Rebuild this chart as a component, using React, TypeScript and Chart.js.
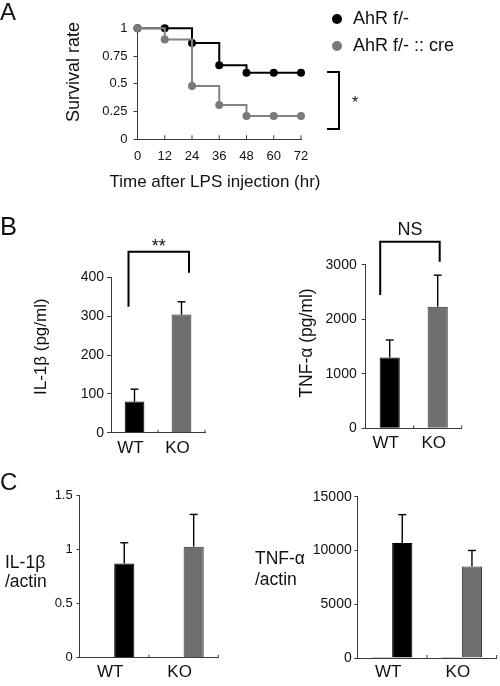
import React, { useEffect, useRef } from "react";
import { Chart, registerables } from "chart.js";
Chart.register(...registerables);

// ---------- data ----------
// Panel A: survival after LPS injection
const survivalHours = [0, 12, 24, 36, 48, 60, 72];
const survivalFlox = [1, 1, 0.867, 0.667, 0.6, 0.6, 0.6];
const survivalCre = [1, 0.9, 0.48, 0.31, 0.21, 0.21, 0.21];
const seriesNames = ["AhR f/-", "AhR f/- :: cre"];

// Panel B: serum cytokines
const groups = ["WT", "KO"];
const il1bSerum = [80, 304];
const il1bSerumErr = [32, 33];
const tnfSerum = [1300, 2230];
const tnfSerumErr = [320, 580];

// Panel C: mRNA / actin (first series is the near-zero control bar)
const il1bCtrl = [0.004, 0.004];
const il1bMrna = [0.87, 1.024];
const il1bMrnaErr = [0.19, 0.297];
const tnfCtrl = [100, 100];
const tnfMrna = [10700, 8500];
const tnfMrnaErr = [2630, 1500];

// significance brackets: [left leg end, top, right leg end] in data units
const bracketIl1b = [324, 466, 412];
const bracketTnf = [2446, 3424, 3057];
const bracketSurvival = [0.606, 0.093];

// ---------- style ----------
const FONT = "'Liberation Sans', Arial, Helvetica, sans-serif";
const TEXT = "#111";
const AXIS = "#3a3a3a";
const BLACK = "#000000";
const GRAY_BAR = "#6f6f6f";
const GRAY_EDGE = "#2e2e2e";
const GRAY_LINE = "#828282";

function drawText(ctx: any, s: string, x: number, y: number, size: number, align = "left", angle = 0, weight = "normal") {
  ctx.save();
  ctx.font = `${weight} ${size}px ${FONT}`;
  ctx.fillStyle = TEXT;
  ctx.textAlign = align;
  ctx.textBaseline = "middle";
  ctx.translate(x, y);
  if (angle) ctx.rotate(angle);
  ctx.fillText(s, 0, 0);
  ctx.restore();
}

function line(ctx: any, pts: number[][], width = 1, color = AXIS) {
  ctx.save();
  ctx.strokeStyle = color;
  ctx.lineWidth = width;
  ctx.beginPath();
  pts.forEach((p, i) => (i ? ctx.lineTo(p[0], p[1]) : ctx.moveTo(p[0], p[1])));
  ctx.stroke();
  ctx.restore();
}

function yAxis(min: number, max: number, step: number, size: number, tickLen: number, pad: number, width: number) {
  return {
    min,
    max,
    ticks: { stepSize: step, font: { family: FONT, size }, color: TEXT, padding: pad, callback: (v: any) => String(v) },
    grid: { drawOnChartArea: false, drawTicks: true, tickLength: tickLen, color: AXIS, lineWidth: 1 },
    border: { display: true, color: AXIS, width: 1 },
    afterFit: (s: any) => {
      s.width = width;
    },
  };
}

function xCatAxis(size: number, pad: number, height: number) {
  return {
    type: "category",
    ticks: { font: { family: FONT, size }, color: TEXT, padding: pad, labelOffset: -4, maxRotation: 0, autoSkip: false },
    grid: { drawOnChartArea: false, drawTicks: false, offset: true },
    border: { display: true, color: AXIS, width: 1 },
    afterFit: (s: any) => {
      s.height = height;
    },
  };
}

function padding(ox: number, oy: number, w: number, h: number, area: number[], yW: number, xH: number) {
  const [l, t, r, b] = area;
  return { left: l - ox - yW, top: t - oy, right: ox + w - r, bottom: oy + h - b - xH };
}

function errorBarPlugin(dsIndex: number, errs: number[]) {
  return {
    id: "errbars",
    afterDatasetsDraw(chart: any) {
      const meta = chart.getDatasetMeta(dsIndex);
      const y = chart.scales.y;
      const vals = chart.data.datasets[dsIndex].data;
      const ctx = chart.ctx;
      meta.data.forEach((bar: any, i: number) => {
        const top = y.getPixelForValue(vals[i] + errs[i]);
        line(ctx, [[bar.x, bar.y], [bar.x, top]], 1.4, BLACK);
        line(ctx, [[bar.x - 4, top], [bar.x + 4, top]], 1.4, BLACK);
      });
    },
  };
}

function catTicks(chart: any) {
  const x = chart.scales.x;
  const n = chart.data.labels.length;
  for (let i = 1; i <= n; i++) {
    const px = x.left + (i * x.width) / n;
    line(chart.ctx, [[px, x.top], [px, x.top - 3]], 1, AXIS);
  }
}

const common = {
  animation: false,
  responsive: false,
  devicePixelRatio: 1,
  events: [],
};

// ---------- panel A ----------
function makeSurvival() {
  const ox = 0, oy = 0, w = 500, h = 200;
  const area = [137.5, 28.3, 301, 139.3];
  const yW = 60, xH = 30;
  const pts = (ys: number[]) => survivalHours.map((hr, i) => ({ x: hr, y: ys[i] }));
  return {
    type: "line",
    data: {
      datasets: [
        {
          label: seriesNames[1],
          data: pts(survivalCre),
          borderColor: GRAY_LINE,
          backgroundColor: "#7a7a7a",
          pointBackgroundColor: "#7a7a7a",
          pointBorderColor: "#7a7a7a",
          pointRadius: 4,
          pointBorderWidth: 0,
          borderWidth: 2,
          stepped: "before",
          clip: false,
        },
        {
          label: seriesNames[0],
          data: pts(survivalFlox),
          borderColor: BLACK,
          backgroundColor: BLACK,
          pointBackgroundColor: BLACK,
          pointBorderColor: BLACK,
          pointRadius: 4,
          pointBorderWidth: 0,
          borderWidth: 2,
          stepped: "before",
          clip: false,
        },
      ],
    },
    options: {
      ...common,
      layout: { padding: padding(ox, oy, w, h, area, yW, xH) },
      plugins: { legend: { display: false }, tooltip: { enabled: false } },
      scales: {
        x: {
          type: "linear",
          min: 0,
          max: 72,
          ticks: { stepSize: 12, font: { family: FONT, size: 13 }, color: TEXT, padding: 9, maxRotation: 0 },
          grid: { drawOnChartArea: false, drawTicks: false },
          border: { display: true, color: AXIS, width: 1 },
          afterFit: (s: any) => {
            s.height = xH;
          },
        },
        y: yAxis(0, 1, 0.25, 13, 4, 6, yW),
      },
    },
    plugins: [
      {
        id: "annA",
        afterDraw(chart: any) {
          const ctx = chart.ctx;
          const x = chart.scales.x, y = chart.scales.y;
          x.ticks.forEach((t: any) => {
            const px = x.getPixelForValue(t.value);
            line(ctx, [[px, y.bottom], [px, y.bottom - 4]], 1, AXIS);
          });
          // significance bracket
          const bx = x.getPixelForValue(72) + 38;
          const t = y.getPixelForValue(bracketSurvival[0]);
          const b = y.getPixelForValue(bracketSurvival[1]);
          line(ctx, [[bx - 12, t], [bx, t], [bx, b], [bx - 12, b]], 2, BLACK);
          drawText(ctx, "*", bx + 13, (t + b) / 2 + 3.5, 16);
          // legend
          const legendY = [19, 46];
          const legendCol = [BLACK, "#7a7a7a"];
          [0, 1].forEach((i) => {
            ctx.save();
            ctx.fillStyle = legendCol[i];
            ctx.beginPath();
            ctx.arc(337, legendY[i], 5, 0, Math.PI * 2);
            ctx.fill();
            ctx.restore();
            drawText(ctx, seriesNames[i], 353, legendY[i], 18);
          });
          drawText(ctx, "Survival rate", 74, 72, 18, "center", -Math.PI / 2);
          drawText(ctx, "Time after LPS injection (hr)", 215, 182, 17, "center");
          drawText(ctx, "A", 0, 13.5, 24);
        },
      },
    ],
  };
}

// ---------- panel B ----------
function makeSerum(which: "il1b" | "tnf") {
  const isIl = which === "il1b";
  const ox = isIl ? 0 : 250, oy = 200, w = 250, h = 270;
  const area = isIl ? [111, 277.3, 205, 432.7] : [365.7, 264.8, 461.7, 428.3];
  const yW = 60, xH = 35;
  const vals = isIl ? il1bSerum : tnfSerum;
  const errs = isIl ? il1bSerumErr : tnfSerumErr;
  const br = isIl ? bracketIl1b : bracketTnf;
  return {
    type: "bar",
    data: {
      labels: groups,
      datasets: [
        {
          data: vals,
          backgroundColor: [BLACK, GRAY_BAR],
          borderColor: [BLACK, GRAY_EDGE],
          borderWidth: 1,
          barPercentage: 0.42,
          categoryPercentage: 1,
        },
      ],
    },
    options: {
      ...common,
      layout: { padding: padding(ox, oy, w, h, area, yW, xH) },
      plugins: { legend: { display: false }, tooltip: { enabled: false } },
      scales: {
        x: xCatAxis(17, 5, xH),
        y: isIl ? yAxis(0, 400, 100, 14, 4, 3, yW) : yAxis(0, 3000, 1000, 14, 4, 5, yW),
      },
    },
    plugins: [
      errorBarPlugin(0, errs),
      {
        id: "annB",
        afterDraw(chart: any) {
          const ctx = chart.ctx;
          const y = chart.scales.y;
          catTicks(chart);
          const bars = chart.getDatasetMeta(0).data;
          const xl = bars[0].x + (isIl ? -6 : -9.5);
          const xr = bars[1].x + (isIl ? 7.5 : 2);
          const yl = y.getPixelForValue(br[0]);
          const yt = y.getPixelForValue(br[1]);
          const yr = y.getPixelForValue(br[2]);
          line(ctx, [[xl, yl], [xl, yt], [xr, yt], [xr, yr]], 2, BLACK);
          const cx = (xl + xr) / 2;
          if (isIl) {
            drawText(ctx, "**", cx, yt - 5, 18, "center");
            drawText(ctx, "IL-1\u03b2 (pg/ml)", 41.7, 146.7, 17, "center", -Math.PI / 2);
            drawText(ctx, "B", 0, 27.5, 25.5);
          } else {
            drawText(ctx, "NS", cx, yt - 11.7, 18, "center");
            drawText(ctx, "TNF-\u03b1 (pg/ml)", 57.3, 143, 17.5, "center", -Math.PI / 2);
          }
        },
      },
    ],
  };
}

// ---------- panel C ----------
function makeMrna(which: "il1b" | "tnf") {
  const isIl = which === "il1b";
  const ox = isIl ? 0 : 250, oy = 470, w = 250, h = 216;
  const area = isIl ? [79.5, 495, 218.3, 657.8] : [357.3, 496.7, 496.7, 658];
  const yW = 60, xH = 28;
  const ctrl = isIl ? il1bCtrl : tnfCtrl;
  const vals = isIl ? il1bMrna : tnfMrna;
  const errs = isIl ? il1bMrnaErr : tnfMrnaErr;
  return {
    type: "bar",
    data: {
      labels: groups,
      datasets: [
        {
          data: ctrl,
          backgroundColor: "#2a2a2a",
          borderColor: "#2a2a2a",
          borderWidth: 0.6,
          barPercentage: 1,
          categoryPercentage: 0.58,
        },
        {
          data: vals,
          backgroundColor: [BLACK, GRAY_BAR],
          borderColor: [BLACK, GRAY_EDGE],
          borderWidth: 1,
          barPercentage: 1,
          categoryPercentage: 0.58,
        },
      ],
    },
    options: {
      ...common,
      layout: { padding: padding(ox, oy, w, h, area, yW, xH) },
      plugins: { legend: { display: false }, tooltip: { enabled: false } },
      scales: {
        x: xCatAxis(17, 4, xH),
        y: isIl ? yAxis(0, 1.5, 0.5, 13, 3, 3.8, yW) : yAxis(0, 15000, 5000, 14, 3, 2.6, yW),
      },
    },
    plugins: [
      errorBarPlugin(1, errs),
      {
        id: "annC",
        afterDraw(chart: any) {
          const ctx = chart.ctx;
          catTicks(chart);
          if (isIl) {
            drawText(ctx, "IL-1\u03b2", 5, 93.3, 17.5);
            drawText(ctx, "/actin", 5, 111.7, 17.5);
            drawText(ctx, "C", 0, 13.5, 24);
          } else {
            drawText(ctx, "TNF-\u03b1", 5, 89.3, 17.5);
            drawText(ctx, "/actin", 5, 110, 17.5);
          }
        },
      },
    ],
  };
}

function ChartBox({ left, top, width, height, make }: any) {
  const ref = useRef<HTMLCanvasElement | null>(null);
  useEffect(() => {
    const chart = new Chart(ref.current as any, make());
    return () => chart.destroy();
  }, []);
  return (
    <canvas
      ref={ref}
      width={width}
      height={height}
      style={{ position: "absolute", left, top, width, height, display: "block" }}
    />
  );
}

export default function App() {
  return (
    <div style={{ position: "absolute", left: 0, top: 0, width: 500, height: 686, background: "#fff", overflow: "hidden" }}>
      <ChartBox left={0} top={0} width={500} height={200} make={makeSurvival} />
      <ChartBox left={0} top={200} width={250} height={270} make={() => makeSerum("il1b")} />
      <ChartBox left={250} top={200} width={250} height={270} make={() => makeSerum("tnf")} />
      <ChartBox left={0} top={470} width={250} height={216} make={() => makeMrna("il1b")} />
      <ChartBox left={250} top={470} width={250} height={216} make={() => makeMrna("tnf")} />
    </div>
  );
}
